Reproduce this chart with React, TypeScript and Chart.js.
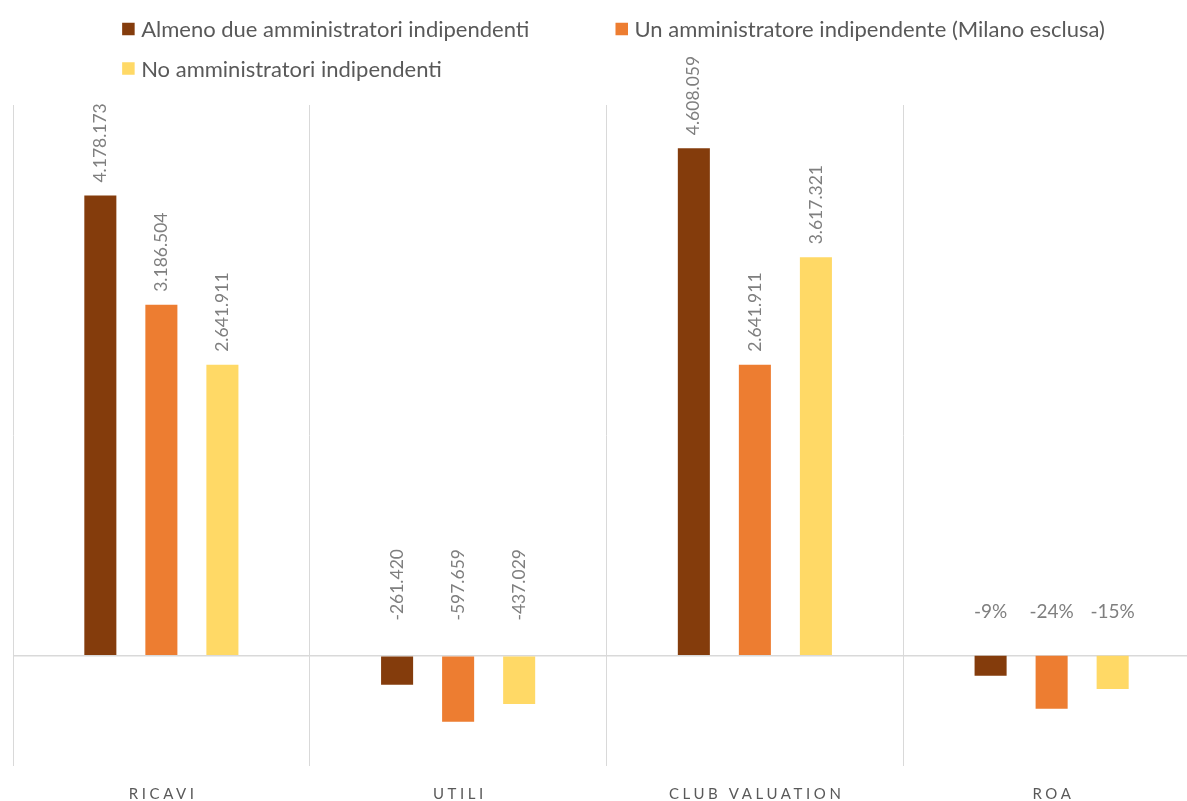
import { useEffect, useRef } from "react";
import { Chart, registerables } from "chart.js";

Chart.register(...registerables);

// Categories on the x axis
const categories = ["RICAVI", "UTILI", "CLUB VALUATION", "ROA"];

// Series (club groups by number of independent directors)
const seriesNames = [
  "Almeno due amministratori indipendenti",
  "Un amministratore indipendente (Milano esclusa)",
  "No amministratori indipendenti",
];
const seriesColors = ["#843C0C", "#ED7D31", "#FFD966"];

// Amounts in euro: ricavi, utili, club valuation
const almenoDue = [4178173, -261420, 4608059];
const unAmministratore = [3186504, -597659, 2641911];
const nessuno = [2641911, -437029, 3617321];

// Return on assets, in percent, one per series
const roaPct = [-9, -24, -15];

// Axis ranges: amounts on the main axis, ROA on a hidden secondary axis
const amountRange = [-1000000, 5000000];
const pctRange = [-50, 250];

const FONT = "Lato, 'Open Sans', sans-serif";
const TEXT_DARK = "#595959";
const TEXT_VALUE = "#7F7F7F";
const GRID = "#D9D9D9";

const fmtThousands = (v: number) => {
  const s = String(Math.abs(v)).replace(/\B(?=(\d{3})+(?!\d))/g, ".");
  return v < 0 ? "-" + s : s;
};

const valueLabels = {
  id: "valueLabels",
  afterDatasetsDraw(chart: any) {
    const ctx = chart.ctx;
    chart.data.datasets.forEach((ds: any, di: number) => {
      const meta = chart.getDatasetMeta(di);
      const isPct = ds.yAxisID === "y1";
      meta.data.forEach((el: any, idx: number) => {
        const v = ds.data[idx];
        if (v === null || v === undefined) return;
        const { x, y, base } = el.getProps(["x", "y", "base"], true);
        ctx.save();
        ctx.fillStyle = TEXT_VALUE;
        if (isPct) {
          ctx.font = `19px ${FONT}`;
          ctx.textAlign = "center";
          ctx.textBaseline = "alphabetic";
          ctx.fillText(`${v}%`, x, base - 38);
        } else {
          ctx.font = `17.5px ${FONT}`;
          const anchor = v >= 0 ? y - 13 : base - 36;
          ctx.translate(x, anchor);
          ctx.rotate(-Math.PI / 2);
          ctx.textAlign = "left";
          ctx.textBaseline = "middle";
          ctx.fillText(fmtThousands(v), 0, 0);
        }
        ctx.restore();
      });
    });
  },
};

const categoryLabels = {
  id: "categoryLabels",
  afterDraw(chart: any) {
    const ctx = chart.ctx;
    const xScale = chart.scales.x;
    const spacing = 3.6;
    ctx.save();
    ctx.font = `15px ${FONT}`;
    ctx.fillStyle = TEXT_DARK;
    ctx.textAlign = "center";
    ctx.textBaseline = "alphabetic";
    (ctx as any).letterSpacing = `${spacing}px`;
    categories.forEach((label, i) => {
      const x = xScale.getPixelForValue(i);
      ctx.fillText(label, x + spacing / 2, chart.chartArea.bottom + 33);
    });
    ctx.restore();
  },
};

const gridLegend = {
  id: "gridLegend",
  afterDraw(chart: any) {
    const ctx = chart.ctx;
    const box = 12.5;
    const gap = 6.5;
    const rowPitch = 39.5;
    const firstRow = 29;
    ctx.save();
    ctx.font = `22px ${FONT}`;
    const widths = seriesNames.map((n) => box + gap + ctx.measureText(n).width);
    const widest = Math.max(...widths);
    const colPitch = widest + 4;
    const perRow = 2;
    const rowWidth = colPitch + widths[1];
    const startX = chart.width / 2 - rowWidth / 2;
    seriesNames.forEach((name, i) => {
      const col = i % perRow;
      const row = Math.floor(i / perRow);
      const x = startX + col * colPitch;
      const cy = firstRow + row * rowPitch;
      ctx.fillStyle = seriesColors[i];
      ctx.fillRect(x, cy - box / 2, box, box);
      ctx.fillStyle = TEXT_DARK;
      ctx.textAlign = "left";
      ctx.textBaseline = "middle";
      ctx.fillText(name, x + box + gap, cy + 1);
    });
    ctx.restore();
  },
};

export default function App() {
  const canvasRef = useRef<HTMLCanvasElement | null>(null);

  useEffect(() => {
    if (!canvasRef.current) return;
    const amountSeries = [almenoDue, unAmministratore, nessuno];
    const datasets: any[] = [
      ...amountSeries.map((vals, i) => ({
        label: seriesNames[i],
        data: [...vals, null],
        backgroundColor: seriesColors[i],
        yAxisID: "y",
        stack: `s${i}`,
      })),
      ...roaPct.map((v, i) => ({
        label: `${seriesNames[i]} (ROA)`,
        data: [null, null, null, v],
        backgroundColor: seriesColors[i],
        yAxisID: "y1",
        stack: `s${i}`,
      })),
    ];

    const chart = new Chart(canvasRef.current, {
      type: "bar",
      data: { labels: categories, datasets },
      options: {
        responsive: false,
        animation: false,
        layout: { padding: { left: 13, right: 27, top: 105, bottom: 35 } },
        datasets: { bar: { categoryPercentage: 0.617, barPercentage: 0.525 } },
        plugins: { legend: { display: false }, tooltip: { enabled: false } },
        scales: {
          x: {
            grid: { offset: true, color: GRID, drawTicks: false, lineWidth: 1 },
            border: { display: false },
            ticks: { display: false },
          },
          y: {
            min: amountRange[0],
            max: amountRange[1],
            ticks: { display: false, stepSize: 1000000 },
            grid: {
              drawTicks: false,
              lineWidth: 1.5,
              color: (c: any) => (c.tick && c.tick.value === 0 ? GRID : "rgba(0,0,0,0)"),
            },
            border: { display: false },
          },
          y1: {
            display: false,
            min: pctRange[0],
            max: pctRange[1],
          },
        },
      },
      plugins: [valueLabels, categoryLabels, gridLegend],
    } as any);

    return () => chart.destroy();
  }, []);

  return (
    <div
      style={{
        position: "fixed",
        left: 0,
        top: 0,
        width: 1187,
        height: 801,
        overflow: "hidden",
        background: "#ffffff",
      }}
    >
      <canvas ref={canvasRef} width={1227} height={801} style={{ display: "block" }} />
    </div>
  );
}
